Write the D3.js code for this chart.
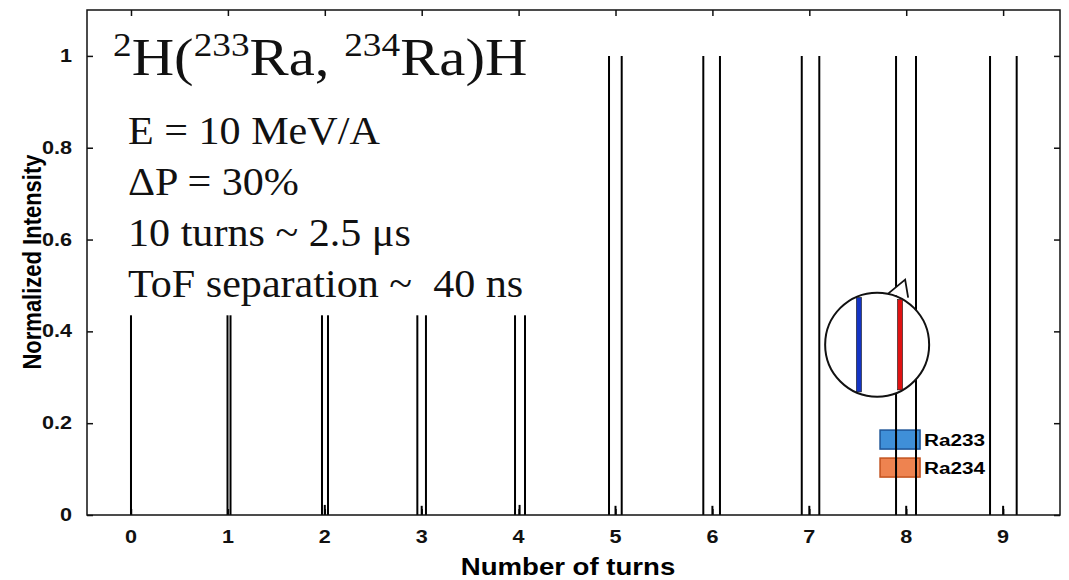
<!DOCTYPE html>
<html>
<head>
<meta charset="utf-8">
<script src="https://cdn.jsdelivr.net/npm/d3@7"></script>
<style>
  body { margin: 0; background: #fff; }
</style>
</head>
<body>
<div id="chart"></div>
<script>
// peak positions (in turns) for each isotope
var turns = [0, 1, 2, 3, 4, 5, 6, 7, 8, 9];
var ra233Pos = [0, 0.996, 1.971, 2.955, 3.963, 4.933, 5.906, 6.922, 7.895, 8.865];
var ra234Pos = [0, 1.027, 2.033, 3.044, 4.066, 5.064, 6.078, 7.103, 8.101, 9.140];
var peakHeight = [1, 1, 1, 1, 1, 1, 1, 1, 1, 1];
// small bumps between the two peaks
var bumpPos = [2.0, 3.0, 4.01, 5.0, 6.0, 7.0, 8.0, 9.0];
var bumpHeight = [0.022, 0.02, 0.022, 0.02, 0.02, 0.02, 0.02, 0.02];
var yTicks = [0, 0.2, 0.4, 0.6, 0.8, 1];
var yTickLabels = ["0", "0.2", "0.4", "0.6", "0.8", "1"];
var infoLines = ["E = 10 MeV/A", "\u0394P = 30%", "10 turns ~ 2.5 \u03bcs", "ToF separation ~  40 ns"];
var legendNames = ["Ra233", "Ra234"];
var legendColors = ["#3f8fd8", "#ee8350"];
var legendStroke = ["#1d5496", "#c2521e"];
var insetNames = ["Ra233", "Ra234"];
var insetPos = [-0.35, 0.44];   // position inside the zoom circle, -1..1
var insetColors = ["#1434c4", "#e01212"];

var stretch = 1.2;  // the original figure is a bit wider than tall
var sans = "Liberation Sans, Arial, sans-serif";
var serif = "Liberation Serif, Times New Roman, serif";

var margin = {top: 10, right: 9, bottom: 65, left: 87},
    width = 1069 - margin.left - margin.right,
    height = 580 - margin.top - margin.bottom;

const svg = d3.select("#chart")
    .append("svg")
    .attr("width", width + margin.left + margin.right)
    .attr("height", height + margin.top + margin.bottom);

const g = svg.append("g")
    .attr("transform", `translate(${margin.left}, ${margin.top})`);

var x = d3.scaleLinear()
    .domain([-0.454, 9.587])
    .range([0, width]);

var y = d3.scaleLinear()
    .domain([0, 1.1])
    .range([height, 0]);

// axes, ticks pointing inward (labels drawn separately below)
var xAxis = g.append("g")
    .attr("transform", `translate(0, ${height})`)
    .call(d3.axisBottom(x).tickValues(turns).tickFormat("").tickSizeInner(-6).tickSizeOuter(0));
var xTop = g.append("g")
    .call(d3.axisTop(x).tickValues(turns).tickFormat("").tickSizeInner(-6).tickSizeOuter(0));
var yAxis = g.append("g")
    .call(d3.axisLeft(y).tickValues(yTicks).tickFormat("").tickSizeInner(-6).tickSizeOuter(0));
var yRight = g.append("g")
    .attr("transform", `translate(${width}, 0)`)
    .call(d3.axisRight(y).tickValues(yTicks).tickFormat("").tickSizeInner(-6).tickSizeOuter(0));
[xAxis, xTop, yAxis, yRight].forEach(a => {
  a.select(".domain").remove();
  a.selectAll(".tick line").attr("stroke", "#111").attr("stroke-width", 1.5);
});

g.append("g").selectAll("text")
  .data(turns)
  .join("text")
    .attr("transform", d => `translate(${x(d)}, ${height + 28}) scale(${stretch},1)`)
    .attr("text-anchor", "middle")
    .style("font-family", sans).style("font-weight", "bold").style("font-size", "18px")
    .attr("fill", "#111")
    .text(d => d);

g.append("g").selectAll("text")
  .data(yTicks)
  .join("text")
    .attr("transform", d => `translate(-15, ${y(d) + 6}) scale(${stretch},1)`)
    .attr("text-anchor", "end")
    .style("font-family", sans).style("font-weight", "bold").style("font-size", "18px")
    .attr("fill", "#111")
    .text((d, i) => yTickLabels[i]);

// legend (drawn under the peaks, the lines run over it)
var leg = g.append("g");
legendNames.forEach((name, i) => {
  var ly = y(0.185) + i * 28;
  leg.append("rect")
    .attr("x", x(7.73)).attr("y", ly)
    .attr("width", 40).attr("height", 19)
    .attr("fill", legendColors[i])
    .attr("stroke", legendStroke[i]).attr("stroke-width", 1.5);
  leg.append("text")
    .attr("transform", `translate(${x(7.73) + 44}, ${ly + 10}) scale(1.22,1)`)
    .attr("dy", "0.35em")
    .style("font-family", sans)
    .style("font-weight", "bold").style("font-size", "17px")
    .text(name);
});

// peaks
var peaks = [];
turns.forEach((t, i) => {
  peaks.push({pos: ra233Pos[i], h: peakHeight[i]});
  peaks.push({pos: ra234Pos[i], h: peakHeight[i]});
});
bumpPos.forEach((p, i) => peaks.push({pos: p, h: bumpHeight[i]}));

g.append("g")
  .selectAll("line")
  .data(peaks)
  .join("line")
    .attr("x1", d => x(d.pos)).attr("x2", d => x(d.pos))
    .attr("y1", y(0)).attr("y2", d => y(d.h))
    .attr("stroke", "#000")
    .attr("stroke-width", 2);

// white text box pasted over the plot
var box = g.append("g");
box.append("rect")
  .attr("x", x(-0.33)).attr("y", y(1.08))
  .attr("width", x(4.25) - x(-0.33))
  .attr("height", y(0.435) - y(1.08))
  .attr("fill", "#fff");

var title = box.append("text")
  .attr("transform", `translate(${113 - margin.left}, ${75 - margin.top}) scale(1.13,1)`)
  .style("font-family", serif)
  .style("font-size", "52px")
  .attr("fill", "#111");
var parts = [["2", true], ["H(", false], ["233", true], ["Ra, ", false], ["234", true], ["Ra)H", false]];
parts.forEach((p, i) => {
  title.append("tspan")
    .attr("dy", i === 0 ? -19 : (p[1] ? -19 : 19))
    .style("font-size", p[1] ? "33px" : "52px")
    .style("white-space", "pre")
    .text(p[0]);
});

box.selectAll("text.info")
  .data(infoLines)
  .join("text")
    .attr("class", "info")
    .attr("transform", (d, i) => `translate(${128 - margin.left}, ${144 - margin.top + i * 51}) scale(1.08,1)`)
    .style("font-family", serif)
    .style("font-size", "39px")
    .style("white-space", "pre")
    .attr("fill", "#111")
    .text(d => d);

// zoom circle
var cx = x(7.70), cy = y(0.371), r = 52;
var inset = g.append("g");
inset.append("path")
  .attr("d", `M${cx + 11},${cy - r + 1} L${cx + 28},${cy - r - 13} L${cx + 31},${cy - r + 5}`)
  .attr("fill", "#fff").attr("stroke", "#111").attr("stroke-width", 1.8);
inset.append("circle")
  .attr("cx", cx).attr("cy", cy).attr("r", r)
  .attr("fill", "#fff").attr("stroke", "#111").attr("stroke-width", 2);
var ix = d3.scaleLinear().domain([-1, 1]).range([cx - r, cx + r]);
insetNames.forEach((n, i) => {
  var dx = ix(insetPos[i]) - cx;
  var half = Math.sqrt(r * r - dx * dx) - 1.5;
  inset.append("rect")
    .attr("x", ix(insetPos[i]) - 2.5).attr("y", cy - half)
    .attr("width", 5).attr("height", 2 * half)
    .attr("fill", insetColors[i])
    .attr("stroke", "#111").attr("stroke-width", 0.6);
});

// frame
g.append("rect")
  .attr("width", width).attr("height", height)
  .attr("fill", "none").attr("stroke", "#111").attr("stroke-width", 1.5);

// axis labels
svg.append("text")
  .attr("text-anchor", "middle")
  .attr("transform", `translate(568, 575) scale(1.2,1)`)
  .style("font-family", sans)
  .style("font-weight", "bold").style("font-size", "23px")
  .text("Number of turns");

svg.append("text")
  .attr("text-anchor", "middle")
  .attr("transform", `translate(41, 262) rotate(-90) scale(1, 1.18)`)
  .style("font-family", sans)
  .style("font-weight", "bold").style("font-size", "22px")
  .text("Normalized Intensity");
</script>
</body>
</html>
